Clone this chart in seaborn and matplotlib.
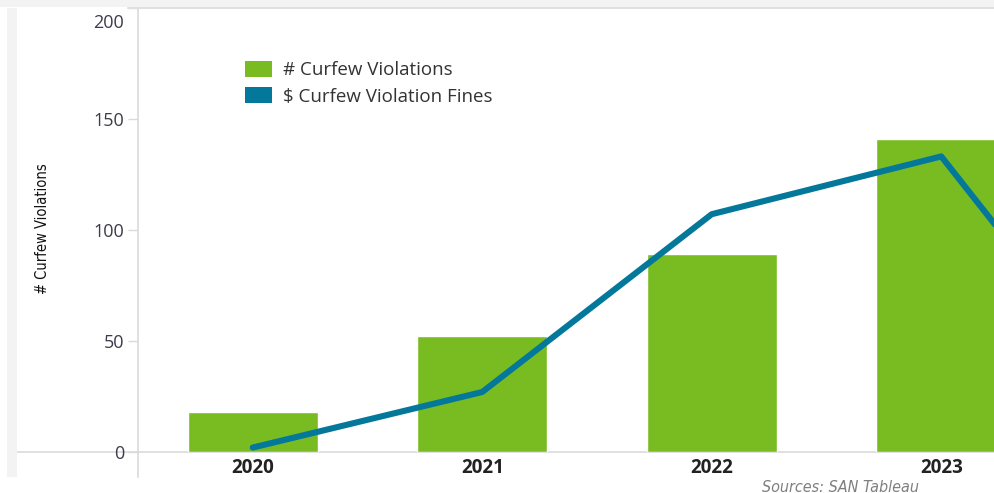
import matplotlib
matplotlib.use('Agg')
import matplotlib.pyplot as plt
from matplotlib.patches import Patch, Rectangle
from matplotlib.lines import Line2D
from matplotlib.transforms import ScaledTranslation
import seaborn as sns

# data (the 2024 bar sits outside the visible frame)
years = ['2020', '2021', '2022', '2023', '2024']
violations = [18, 52, 89, 141]
fines = [2, 27, 107, 133, 2]
y_ticks = [0, 50, 100, 150, 200]

GREEN = '#79bc22'
BLUE = '#04789b'
GRID = '#dadada'

sns.set_style('white')
plt.rcParams['font.family'] = ['Open Sans', 'DejaVu Sans']

fig = plt.figure(figsize=(9.94, 4.93), dpi=100)
# plot area runs past the right edge, like the cropped screenshot
ax = fig.add_axes([138 / 994, 41 / 493, 1147.5 / 994, 444.5 / 493])

sns.barplot(x=years[:len(violations)], y=violations, order=years, color=GREEN,
            saturation=1, width=0.567, ax=ax)
sns.pointplot(x=years, y=fines, order=years, color=BLUE, markers='',
              linestyles='-', linewidth=4.4, ax=ax)
for ln in ax.lines:
    ln.set_solid_capstyle('round')
    ln.set_solid_joinstyle('round')

ax.set_xlim(-0.5, len(years) - 0.5)
ax.set_ylim(0, 200)
ax.set_yticks(y_ticks)
# only the years that fall inside the visible frame get a label
shown = years[:len(violations)]
ax.set_xticks(range(len(shown)))
ax.set_xticklabels(shown, fontweight='bold', fontsize=13.5, color='#222222')
ax.set_xticks([i + 0.5 for i in range(len(years) - 1)], minor=True)
ax.tick_params(axis='x', which='major', length=0, pad=4.5)
ax.tick_params(axis='x', which='minor', length=5, width=1, color=GRID)
ax.tick_params(axis='y', length=7, width=1, color=GRID, pad=3,
               labelsize=13, labelcolor='#3c3c4c', left=True)
for lab in ax.get_yticklabels():
    if lab.get_text() == '200':
        lab.set_va('top')
        lab.set_transform(lab.get_transform() + ScaledTranslation(0, -5 / 72, fig.dpi_scale_trans))

for s in ['top', 'right', 'bottom']:
    ax.spines[s].set_visible(False)
ax.spines['left'].set_color(GRID)
ax.spines['left'].set_linewidth(1.2)
ax.spines['left'].set_bounds(-11.3, 200)
ax.axhline(0, xmin=-0.1055, xmax=1, color=GRID, lw=1.2, clip_on=False, zorder=0)

ax.set_xlabel('')
ax.set_ylabel('# Curfew Violations', family='DejaVu Sans', fontstretch='condensed',
              fontsize=10.5, color='#111111')
ax.yaxis.set_label_coords(-0.0765, 0.502)

handles = [Patch(facecolor=GREEN, edgecolor='none'), Patch(facecolor=BLUE, edgecolor='none')]
ax.legend(handles, ['# Curfew Violations', '$ Curfew Violation Fines'],
          loc='upper left', bbox_to_anchor=(0.0932, 0.880), frameon=False,
          borderpad=0, borderaxespad=0, handlelength=1.45, handleheight=0.95,
          handletextpad=0.6, labelspacing=0.42, fontsize=13.5, labelcolor='#333333')

# screenshot frame bits
fig.patches.append(Rectangle((0, 1 - 7 / 493), 1, 7 / 493, transform=fig.transFigure,
                             facecolor='#f3f3f3', edgecolor='none', zorder=0))
fig.lines.append(Line2D([128 / 994, 1], [1 - 7.5 / 493] * 2, transform=fig.transFigure,
                        color='#e0e0e0', lw=1.5))
fig.patches.append(Rectangle((7 / 994, 16 / 493), 10 / 994, 469 / 493, transform=fig.transFigure,
                             facecolor='#f3f3f3', edgecolor='none', zorder=0))

fig.text(841 / 994, 6 / 493, 'Sources: SAN Tableau', ha='center', va='center',
         fontsize=11.5, style='italic', color='#7f7f7f',
         family='DejaVu Sans', fontstretch='condensed')

plt.savefig('out.png', dpi=100)
plt.close()
